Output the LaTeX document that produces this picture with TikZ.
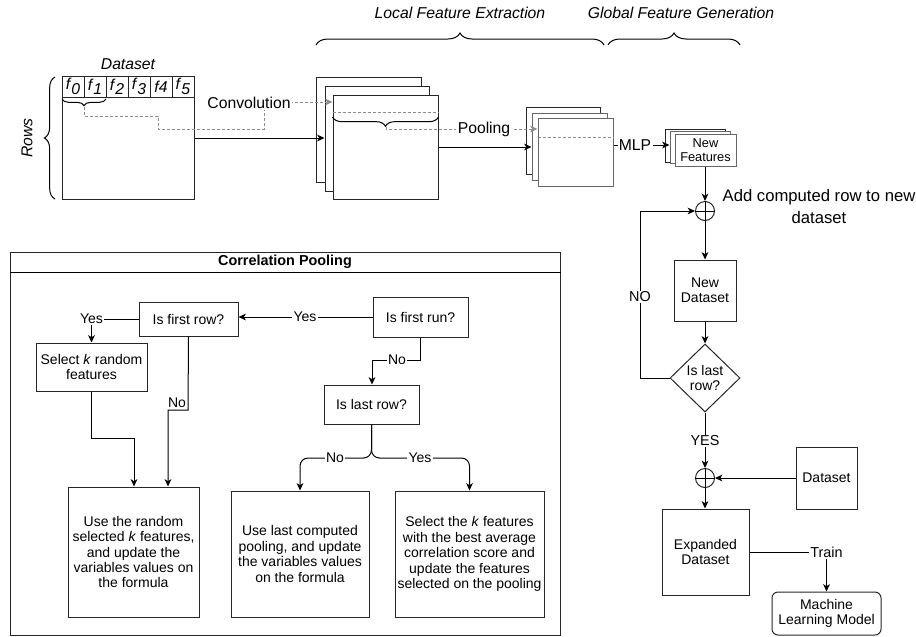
\documentclass[tikz,border=0pt]{standalone}
\usepackage{fontspec}
\setmainfont{Liberation Sans}
\usetikzlibrary{arrows.meta,decorations.pathreplacing,shapes.geometric,calc}
\newcommand{\fsbox}{\fontsize{10.5}{11.6}\selectfont}
\newcommand{\fssmall}{\fontsize{9.6}{11}\selectfont}
\newcommand{\fslab}{\fontsize{10.8}{12}\selectfont}
\newcommand{\fsbig}{\fontsize{11.8}{14}\selectfont}
\newcommand{\fsadd}{\fontsize{12.5}{16.5}\selectfont}
\newcommand{\fcellsub}[1]{\textit{f}\raisebox{-0.28em}{\textit{#1}}}
\tikzset{
  sz/.style 2 args={minimum width=#1*0.75pt, minimum height=#2*0.75pt},
  box/.style={draw=black!85, fill=white, align=center, inner sep=1pt, font=\fsbox},
  plain/.style={draw=black!85, fill=white, inner sep=0pt},
  grayplain/.style={draw=black!60, fill=white, inner sep=0pt},
  cellbox/.style={draw=black!85, fill=white, inner sep=0pt, sz={22}{21}, font=\fsbig},
  gdash/.style={draw=black!45, dash pattern=on 2.25pt off 1.5pt},
  lbl/.style={fill=white, inner sep=1pt, font=\fslab},
  lblbig/.style={fill=white, inner sep=1pt, font=\fsbig},
  plus/.style={circle, draw=black!85, fill=white, minimum size=14.25pt, inner sep=0pt},
  brc/.style={decorate, decoration={brace, amplitude=#1}},
}
\begin{document}
\begin{tikzpicture}[x=0.75pt,y=-0.75pt, line width=0.75pt,
  >={Stealth[length=5.5pt,width=5pt,inset=1.5pt]}]
\useasboundingbox (0,0) rectangle (916,636);

% ---------- top labels and braces
\node[font=\fsbig\itshape] (lfe) at (460,13) {Local Feature Extraction};
\node[font=\fsbig\itshape] (gfg) at (681,13) {Global Feature Generation};
\draw[brc=9pt] (316,45) -- (604,45);
\draw[brc=9pt] (608,45) -- (740,45);

% ---------- dataset
\node[font=\fsbig\itshape] (dstitle) at (128,64) {Dataset};
\node[plain, sz={132}{123}] (ds) at (128,137.5) {};
\node[cellbox] (c0) at (73,86.5) {\fcellsub{0}};
\node[cellbox] (c1) at (95,86.5) {\fcellsub{1}};
\node[cellbox] (c2) at (117,86.5) {\fcellsub{2}};
\node[cellbox] (c3) at (139,86.5) {\fcellsub{3}};
\node[cellbox] (c4) at (161,86.5) {\textit{f4}};
\node[cellbox] (c5) at (183,86.5) {\fcellsub{5}};
\draw[brc=8pt] (55,199) -- (55,77);
\node[rotate=90, font=\fsbig\itshape] (rows) at (27,138) {Rows};
\draw[brc=5pt] (106,99) -- (62,99);
\coordinate (bt1) at (84,107);

% ---------- convolution stack
\node[plain, sz={105}{105}] (r1) at (368.5,129.5) {};
\node[plain, sz={104}{105}] (r2) at (377,138.5) {};
\node[plain, sz={105}{104}] (r3) at (385.5,147) {};
\draw[gdash] (r3.west |- 0,112) -- (r3.east |- 0,112);
\draw[brc=7pt] (r3.east |- 0,117) -- (r3.west |- 0,117);
\coordinate (bt2) at (386,127);

\draw[gdash,->] (bt1) -- (84,116) -- (158,116) -- (158,129) -- (264,129) -- (264,102) -- (r3.west |- 0,102);
\node[lblbig] (convlbl) at (249,103) {Convolution};
\draw[->] (ds.east |- 0,138) -- (r2.west |- 0,138);

% ---------- pooling stack
\node[plain, sz={74}{67}] (p1) at (563,140.5) {};
\node[grayplain, sz={75}{67}] (p2) at (569.5,146.5) {};
\node[grayplain, sz={75}{68}] (p3) at (575.5,152) {};
\draw[gdash] (p3.west |- 0,137) -- (p3.east |- 0,137);

\draw[gdash,->] (bt2) -- (386,129) -- (p3.west |- 0,129);
\node[lblbig] (poollbl) at (484,129) {Pooling};
\draw[->] (r3.east |- 0,147) -- (p2.west |- 0,147);

% ---------- new features
\node[plain, sz={60}{33}] (nf1) at (695,145.5) {};
\node[grayplain, sz={60}{32}] (nf2) at (700,147.5) {};
\node[grayplain, sz={61}{32}, align=center, font=\fssmall, inner sep=0pt] (nf3) at (705.5,150) {New\\Features};
\draw[->] (p3.east |- 0,145) -- (nf2.west |- 0,145);
\node[lblbig] (mlplbl) at (635,145) {MLP};

% ---------- right flow
\node[plus] (s1) at (705,211) {};
\draw[line width=0.6pt] (s1.north) -- (s1.south) (s1.west) -- (s1.east);
\draw[->] (nf3.south -| s1.north) -- (s1.north);
\node[font=\fsadd, align=center] (addlbl) at (819,207) {Add computed row to new\\dataset};

\node[box, sz={62}{61}] (nd) at (705,290.5) {New\\Dataset};
\draw[->] (s1.south) -- (nd.north);
\node[diamond, draw=black!85, fill=white, align=center, font=\fsbox, inner sep=0pt, aspect=1.03, sz={70}{68}] (dm) at (705,378) {Is last\\row?};
\draw[->] (nd.south) -- (dm.north);
\draw[->] (dm.west) -- (640,378) -- (640,211) -- (s1.west);
\node[lbl] (nolbl) at (640,297) {NO};

\node[plus] (s2) at (705,478) {};
\draw[line width=0.6pt] (s2.north) -- (s2.south) (s2.west) -- (s2.east);
\draw[->] (dm.south) -- (s2.north);
\node[lbl] (yeslbl) at (705,441) {YES};
\node[box, sz={61}{62}] (ds2) at (826.5,478) {Dataset};
\draw[->] (ds2.west) -- (s2.east);
\node[box, sz={87}{86}] (exp) at (705.5,552) {Expanded\\Dataset};
\draw[->] (s2.south) -- (exp.north -| s2.south);
\node[box, sz={109}{43}, rounded corners=4.5pt] (ml) at (826.5,613.5) {Machine\\Learning Model};
\draw[->] (exp.east) -| (ml.north) node[lbl, pos=0.5] {Train};

% ---------- correlation pooling
\node[plain, sz={550}{383}] (cp) at (285,443.5) {};
\draw (cp.west |- 0,272) -- (cp.east |- 0,272);
\node[font=\fslab\bfseries] (cptitle) at (285,262) {Correlation Pooling};

\node[box, sz={95}{40}] (fr) at (420.5,317) {Is first run?};
\node[box, sz={99}{34}] (frw) at (188.5,319) {Is first row?};
\node[box, sz={111}{48}] (sel) at (91.5,367) {Select \textit{k} random\\features};
\node[box, sz={95}{39}] (lr) at (371.5,404.5) {Is last row?};
\node[box, sz={131}{130}] (b1) at (133.5,552) {Use the random\\selected \textit{k} features,\\and update the\\variables values on\\the formula};
\node[box, sz={138}{126}] (b2) at (300,554) {Use last computed\\pooling, and update\\the variables values\\on the formula};
\node[box, sz={149}{126}] (b3) at (469.5,554) {Select the \textit{k} features\\with the best average\\correlation score and\\update the features\\selected on the pooling};

\draw[->] (fr.west) -- (fr.west -| frw.east);
\node[lbl, font=\fsbox] (y1) at (305,317) {Yes};
\draw[->] (frw.west) -| (sel.north) node[lbl, font=\fsbox, pos=0.5] {Yes};
\draw[->] (frw.south) -- (188,410) -- (168,410) -- (b1.north -| 168,0);
\node[lbl, font=\fsbox] (n1) at (177,403) {No};
\draw[->] (sel.south) -- (91.5,438) -- (134,438) -- (b1.north -| 134,0);
\draw[->] (fr.south) -- (420.5,360) -- (372,360) -- (lr.north -| 372,0);
\node[lbl, font=\fsbox] (n2) at (397,360) {No};
\draw[->, rounded corners=6pt] (lr.south) -- (371.5,458) -- (300,458) -- (b2.north);
\draw[->, rounded corners=6pt] (lr.south) -- (371.5,458) -- (469.5,458) -- (b3.north);
\node[lbl, font=\fsbox] (n3) at (335,458) {No};
\node[lbl, font=\fsbox] (y3) at (420,458) {Yes};
\end{tikzpicture}
\end{document}
